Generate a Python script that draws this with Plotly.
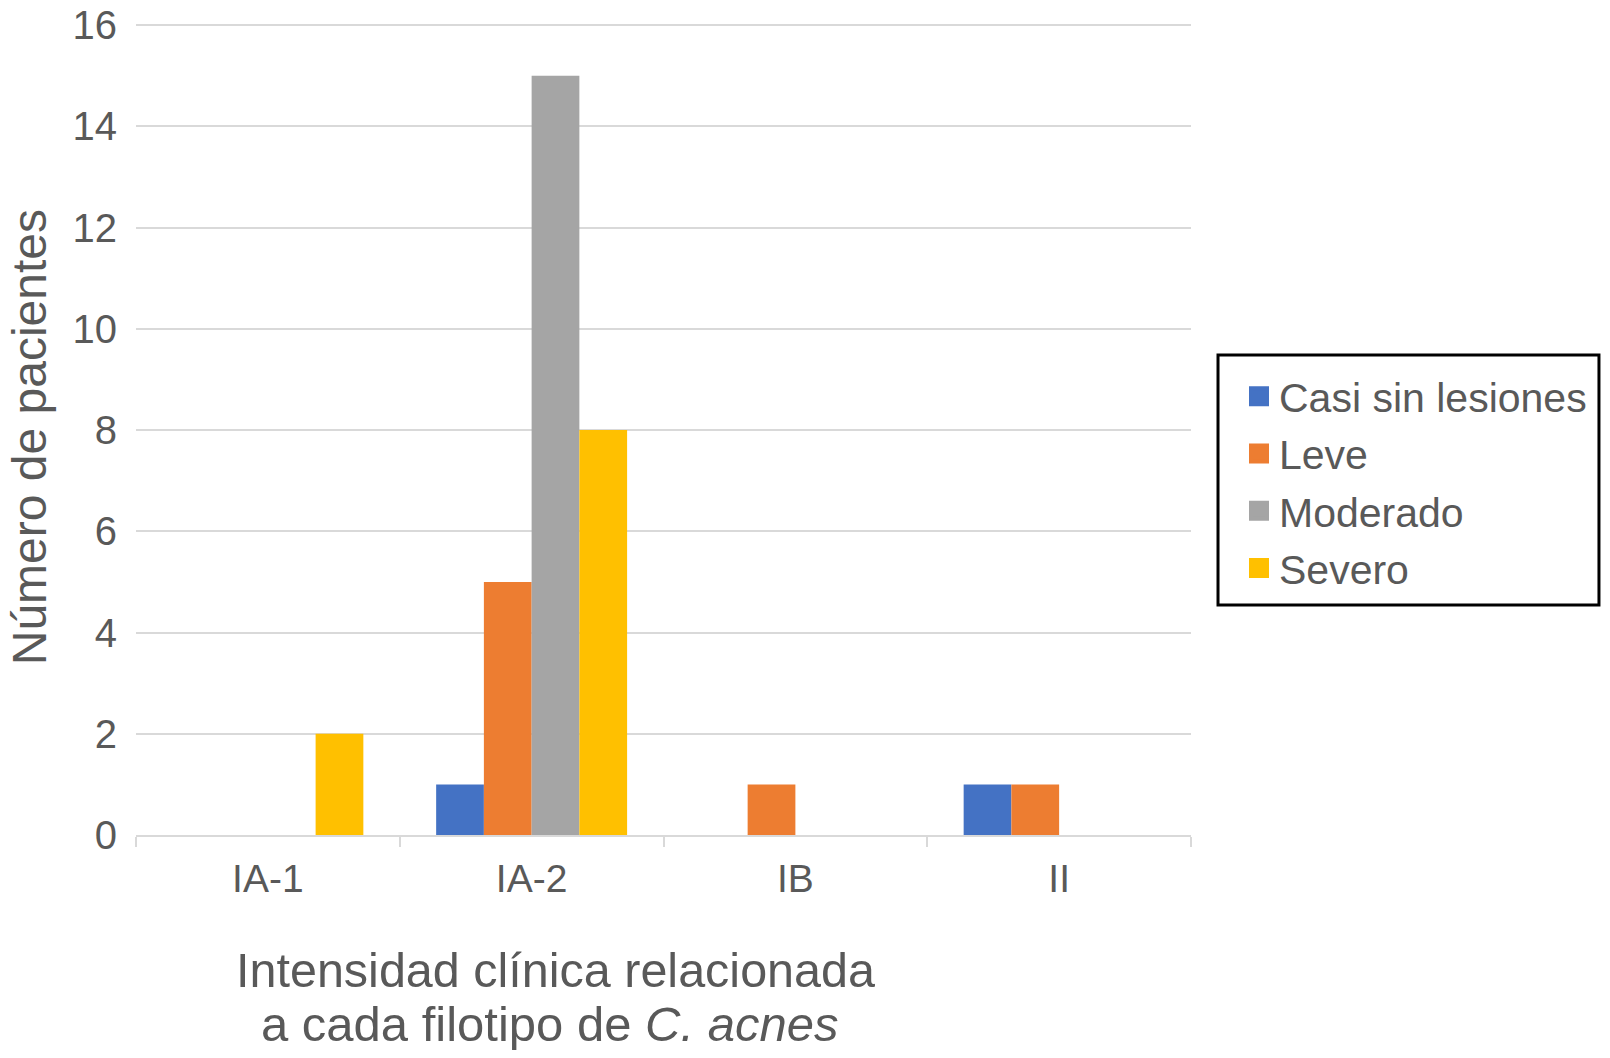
import plotly.graph_objects as go

categories = ["IA-1", "IA-2", "IB", "II"]
series_names = ["Casi sin lesiones", "Leve", "Moderado", "Severo"]
casi_sin_lesiones = [0, 1, 0, 1]
leve = [0, 5, 1, 1]
moderado = [0, 15, 0, 0]
severo = [2, 8, 0, 0]
y_ticks = [0, 2, 4, 6, 8, 10, 12, 14, 16]

colors = ["#4472C4", "#ED7D31", "#A5A5A5", "#FFC000"]
values = [casi_sin_lesiones, leve, moderado, severo]

FONT = "Liberation Sans, Arial, Helvetica, sans-serif"
TXT = "#595959"

fig = go.Figure()
for i, (name, vals) in enumerate(zip(series_names, values)):
    fig.add_trace(go.Bar(
        x=categories, y=vals, name=name,
        marker=dict(color=colors[i], line=dict(width=0)),
        legendgroup=name, showlegend=False,
    ))
# legend entries with larger square swatches
for i, name in enumerate(series_names):
    fig.add_trace(go.Scatter(
        x=[None], y=[None], mode="markers", name=name,
        marker=dict(symbol="square", size=20, color=colors[i],
                    line=dict(width=4, color=colors[i])),
        legendgroup=name, showlegend=True, hoverinfo="skip",
    ))

fig.update_layout(
    width=1594, height=1042,
    margin=dict(l=128, r=411, t=16, b=215, autoexpand=False),
    paper_bgcolor="white", plot_bgcolor="white",
    barmode="group", bargap=0.276, bargroupgap=0,
    font=dict(family=FONT, color=TXT, size=38),
    showlegend=True,
    legend=dict(
        x=1.0455, y=0.582, xanchor="left", yanchor="top",
        borderwidth=0, bgcolor="rgba(0,0,0,0)",
        font=dict(size=41, color=TXT, family=FONT),
        traceorder="grouped", tracegroupgap=1,
        itemsizing="trace",
    ),
    xaxis=dict(
        type="category", automargin=False,
        showgrid=False,
        showline=True, linecolor="#D9D9D9", linewidth=1.5,
        ticks="outside", tickson="boundaries", ticklen=10,
        tickcolor="#D9D9D9", tickwidth=1.5,
        tickfont=dict(size=39, color=TXT, family=FONT),
        ticklabelstandoff=8,
    ),
    yaxis=dict(
        range=[0, 16.02], tickvals=y_ticks, automargin=False,
        showgrid=True, gridcolor="#D9D9D9", gridwidth=1.5,
        zeroline=False, showline=False, ticks="",
        tickfont=dict(size=40, color=TXT, family=FONT),
        ticklabelstandoff=18, ticklabeloverflow="allow",
    ),
    shapes=[
        dict(type="rect", xref="paper", yref="paper",
             x0=1.0256, x1=1.3867, y0=0.2836, y1=0.5919,
             line=dict(color="black", width=3), fillcolor="rgba(0,0,0,0)",
             layer="above"),
    ],
    annotations=[
        dict(
            text="Intensidad clínica relacionada",
            xref="paper", yref="paper", x=0.398, y=-0.166,
            xanchor="center", yanchor="middle", showarrow=False,
            font=dict(size=48.5, color=TXT, family=FONT),
        ),
        dict(
            text="a cada filotipo de <i>C. acnes</i>",
            xref="paper", yref="paper", x=0.3915, y=-0.233,
            xanchor="center", yanchor="middle", showarrow=False,
            font=dict(size=49, color=TXT, family=FONT),
        ),
        dict(
            text="Número de pacientes",
            xref="paper", yref="paper", x=-0.101, y=0.491,
            xanchor="center", yanchor="middle", showarrow=False,
            textangle=-90,
            font=dict(size=48, color=TXT, family=FONT),
        ),
    ],
)

fig.write_html("out.html")
